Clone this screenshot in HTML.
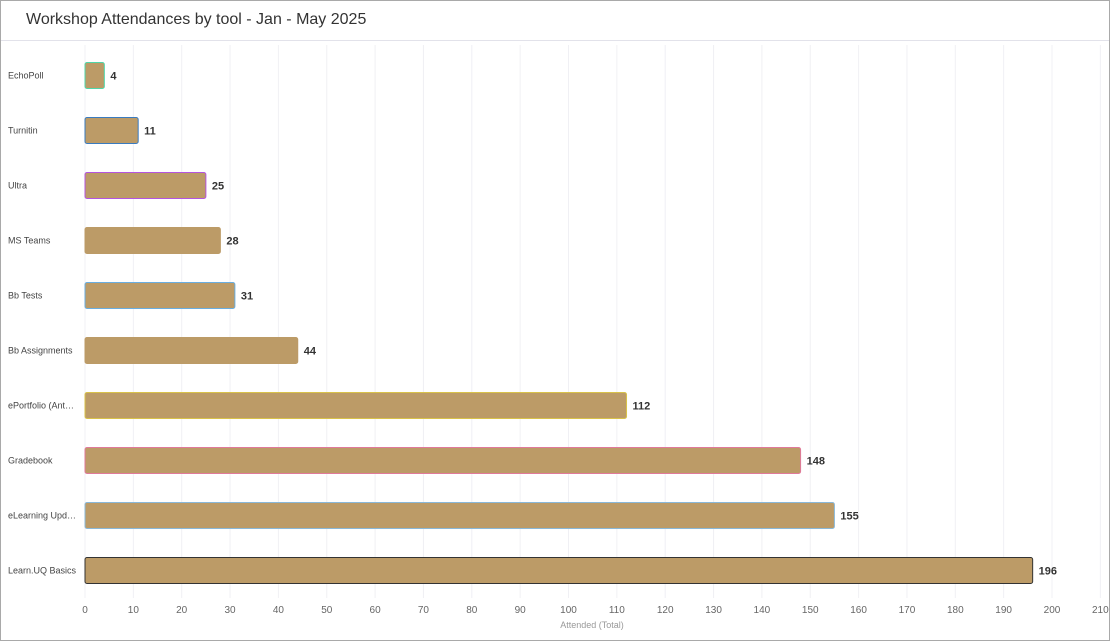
<!DOCTYPE html>
<html><head><meta charset="utf-8"><style>
body{margin:0;background:#fff;font-family:"Liberation Sans",sans-serif;}
#card{position:absolute;left:0;top:0;width:1108px;height:639px;border:1px solid #a9a9a9;background:#fff;}
#title{position:absolute;left:25px;top:10px;font-size:16px;color:#333;}
#hdr{position:absolute;left:0;top:39px;width:1108px;height:1px;background:#e2e2ea;}
</style></head><body>
<div id="card">
<div id="title">Workshop Attendances by tool - Jan - May 2025</div>
<div id="hdr"></div>
</div>
<svg id="chart" width="1110" height="641" style="position:absolute;left:0;top:0"></svg>
<script>
const categories=["EchoPoll","Turnitin","Ultra","MS Teams","Bb Tests","Bb Assignments","ePortfolio (Ant…","Gradebook","eLearning Upd…","Learn.UQ Basics"];
const values=[4,11,25,28,31,44,112,148,155,196];
const ticks=[0,10,20,30,40,50,60,70,80,90,100,110,120,130,140,150,160,170,180,190,200,210];
const strokes=["#4fd6a8","#3a7bbf","#b455e0","#bc9b67","#6aaee0","#bc9b67","#d9c24a","#e07a9a","#8ab8d8","#333333"];
const NS="http://www.w3.org/2000/svg";
const svg=document.getElementById('chart');
const x0=85,pxPer=4.835,yTop=48,band=55,barH=26;
const xs=v=>x0+v*pxPer;
const yc=i=>yTop+band*i+band/2;
function mk(t,a){const e=document.createElementNS(NS,t);for(const k in a)e.setAttribute(k,a[k]);svg.appendChild(e);return e;}
ticks.forEach(t=>{
 const g=mk('line',{x1:xs(t),x2:xs(t),y1:45,y2:598,stroke:'#f0f0f4','stroke-width':1});
 
 
 const l=mk('text',{x:xs(t),y:613,'text-anchor':'middle','font-size':10,fill:'#666'});
 l.textContent=t;
 
 
});
categories.forEach((c,i)=>{
 const y=yc(i);
 const lab=mk('text',{x:8,y:y+3,'font-size':9,fill:'#444'});
 lab.textContent=c;
 
 
 const r=mk('rect',{x:x0,y:y-barH/2,width:xs(values[i])-x0,height:barH,rx:2,fill:'#bc9b67',stroke:strokes[i],'stroke-width':1});
 
 
 const v=mk('text',{x:xs(values[i])+6,y:y+4,'font-size':11,'font-weight':'bold',fill:'#333'});
 v.textContent=values[i];
 
 
});
const at=mk('text',{x:592,y:628,'text-anchor':'middle','font-size':9,fill:'#999'});
at.textContent='Attended (Total)';


</script>
</body></html>
